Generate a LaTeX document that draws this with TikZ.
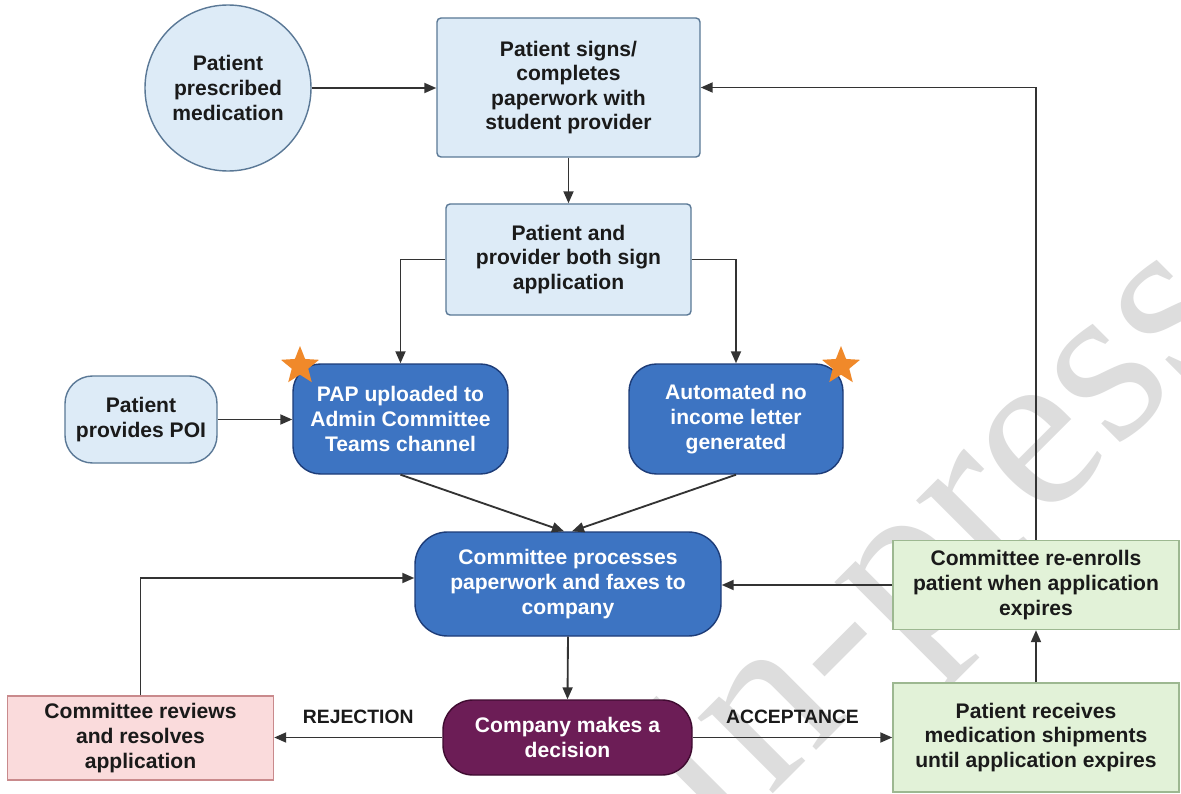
\documentclass[tikz,border=0pt]{standalone}
\usepackage{fontspec}
\setmainfont{Liberation Sans}
\newfontfamily\wmfont{Liberation Serif}
\usetikzlibrary{arrows.meta,shapes.geometric,calc}
\definecolor{lbfill}{HTML}{DDEBF7}
\definecolor{lbdraw}{HTML}{5A7896}
\definecolor{dbfill}{HTML}{3D74C2}
\definecolor{dbdraw}{HTML}{1D3C78}
\definecolor{pufill}{HTML}{6C1D56}
\definecolor{pudraw}{HTML}{3F0B30}
\definecolor{pkfill}{HTML}{FADBDC}
\definecolor{pkdraw}{HTML}{C98A8C}
\definecolor{grfill}{HTML}{E2F2D8}
\definecolor{grdraw}{HTML}{9DB891}
\definecolor{arrcol}{HTML}{333333}
\definecolor{starcol}{HTML}{F0892A}
\definecolor{txtdark}{HTML}{1A1A1A}
\definecolor{wmcol}{HTML}{DDDDDD}
\begin{document}
\begin{tikzpicture}[x=0.02cm,y=-0.02cm,
  box/.style={rectangle, line width=0.8pt, align=center, inner sep=0pt,
    font=\bfseries\fontsize{12}{14}\selectfont},
  lightbox/.style={box, fill=lbfill, draw=lbdraw, text=txtdark, rounded corners=0.08cm},
  darkbox/.style={box, fill=dbfill, draw=dbdraw, text=white, rounded corners=0.55cm},
  purplebox/.style={box, fill=pufill, draw=pudraw, text=white, rounded corners=0.6cm},
  pinkbox/.style={box, fill=pkfill, draw=pkdraw, text=txtdark},
  greenbox/.style={box, fill=grfill, draw=grdraw, text=txtdark},
  arr/.style={draw=arrcol, line width=1.05pt, -{Triangle[length=0.24cm,width=0.2cm]}},
  lbl/.style={font=\bfseries\fontsize{11}{13}\selectfont, text=txtdark, inner sep=0pt},
  starmark/.style={star, star points=5, star point ratio=2.3, fill=starcol, draw=none,
    minimum size=0.8cm, inner sep=0pt}
]
\useasboundingbox (0,0) rectangle (1181,794);
\fill[white] (0,0) rectangle (1181,794);

% watermark
\node[rotate=45, text=wmcol, inner sep=0pt,
  font=\wmfont\fontsize{132}{132}\selectfont] (wm) at (943,552) {In-press};

% nodes
\node[circle, line width=0.8pt, fill=lbfill, draw=lbdraw, text=txtdark, align=center,
  inner sep=0pt, minimum size=166*0.02cm, font=\bfseries\fontsize{12}{14}\selectfont]
  (circ) at (228,88) {Patient\\prescribed\\medication};
\node[lightbox, minimum width=263*0.02cm, minimum height=139*0.02cm] (b2) at (568.5,87.5)
  {Patient signs/\\completes\\paperwork with\\student provider};
\node[lightbox, minimum width=245*0.02cm, minimum height=111*0.02cm] (b3) at (568.5,259.5)
  {Patient and\\provider both sign\\application};
\node[lightbox, rounded corners=0.55cm, minimum width=152*0.02cm, minimum height=87*0.02cm]
  (poi) at (141,419.5) {Patient\\provides POI};
\node[darkbox, minimum width=215*0.02cm, minimum height=110*0.02cm] (pap) at (400.5,419)
  {PAP uploaded to\\Admin Committee\\Teams channel};
\node[darkbox, minimum width=214*0.02cm, minimum height=110*0.02cm] (auto) at (736,419)
  {Automated no\\income letter\\generated};
\node[darkbox, rounded corners=0.65cm, minimum width=306*0.02cm, minimum height=104*0.02cm]
  (proc) at (568,584) {Committee processes\\paperwork and faxes to\\company};
\node[purplebox, minimum width=249*0.02cm, minimum height=75*0.02cm] (dec) at (567.5,737.5)
  {Company makes a\\decision};
\node[pinkbox, minimum width=266*0.02cm, minimum height=84*0.02cm] (rev) at (140.5,738)
  {Committee reviews\\and resolves\\application};
\node[greenbox, minimum width=286*0.02cm, minimum height=89*0.02cm] (reen) at (1036,585)
  {Committee re-enrolls\\patient when application\\expires};
\node[greenbox, minimum width=286*0.02cm, minimum height=109*0.02cm] (recv) at (1036,737.5)
  {Patient receives\\medication shipments\\until application expires};

% stars
\node[starmark] (st1) at (300,366) {};
\node[starmark] (st2) at (841,366) {};

% connectors
\draw[arr] (circ.east) -- (circ.east -| b2.west);
\draw[arr] (b2.south) -- (b3.north);
\draw[arr] (b3.west) -| (pap.north);
\draw[arr] (b3.east) -| (auto.north);
\draw[arr] (poi.east) -- (poi.east -| pap.west);
\draw[arr] (pap.south) -- ($(proc.north)+(-4,0)$);
\draw[arr] (auto.south) -- ($(proc.north)+(4,0)$);
\draw[arr] (proc.south) -- (dec.north);
\draw[arr] (dec.west) -- (dec.west -| rev.east) node[lbl, midway, above=0.25cm] (rej) {REJECTION};
\draw[arr] (dec.east) -- (dec.east -| recv.west) node[lbl, midway, above=0.25cm] (acc) {ACCEPTANCE};
\draw[arr] (rev.north) |- ($(proc.west)+(0,-6)$);
\draw[arr] (reen.west) -- (reen.west -| proc.east);
\draw[arr] (recv.north) -- (reen.south);
\draw[arr] (reen.north) |- (b2.east);
\end{tikzpicture}
\end{document}
